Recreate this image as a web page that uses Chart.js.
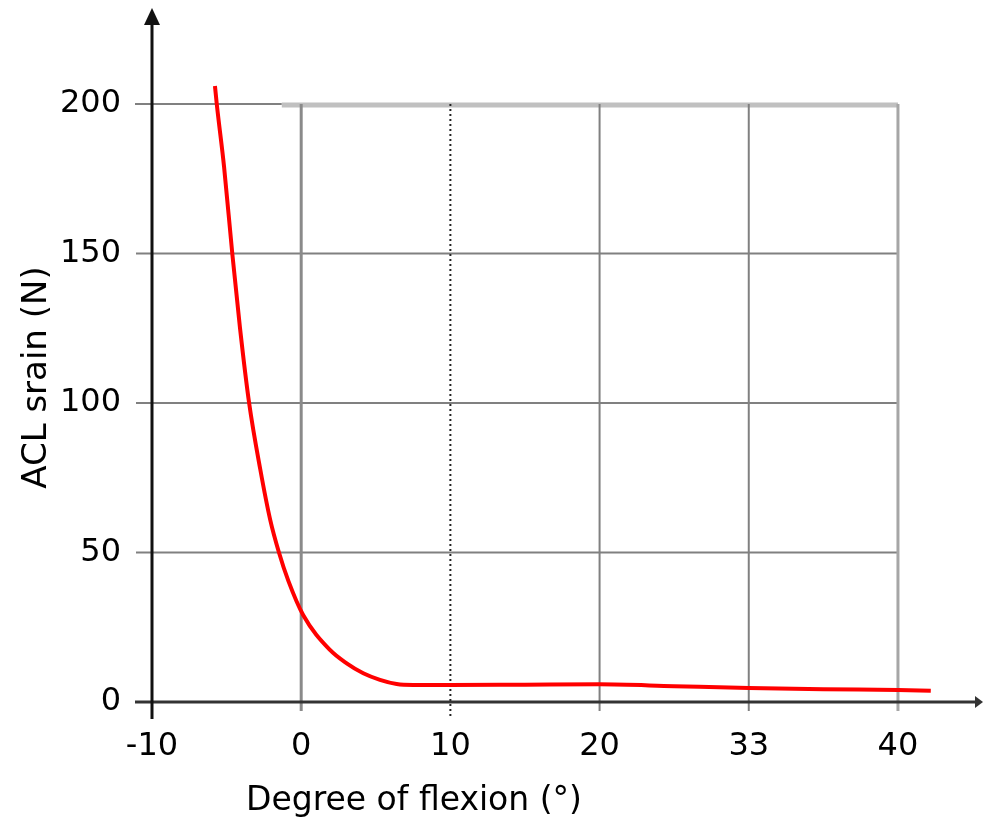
<!DOCTYPE html>
<html>
<head>
<meta charset="utf-8">
<script src="https://cdn.jsdelivr.net/npm/chart.js@4"></script>
<style>
  body { margin: 0; background: #fff; }
  #wrap { width: 984px; height: 824px; }
</style>
</head>
<body>
<div id="wrap"><canvas id="strainChart" width="984" height="824"></canvas></div>
<script>
// Curve: flexion angle (deg) vs ACL strain (N)
const flexion = [-5.78, -5.66, -5.17, -4.62, -4.1, -3.49, -2.75, -2.08, -1.49, -0.86, 0.14, 1.93, 3.05, 4.16, 5.28, 6.4, 7.5, 10, 15, 20, 25, 30, 35, 40, 42.2];
const strain  = [206, 200, 179, 150, 125, 100, 78, 61, 50, 40.5, 29, 17.4, 12.9, 9.6, 7.4, 6.0, 5.7, 5.7, 5.8, 5.9, 5.3, 4.7, 4.3, 4.0, 3.8];

// Axis ticks (the 30 tick is printed as "33" in the source)
const xTicks = [-10, 0, 10, 20, 30, 40];
const xTickLabels = ['-10', '0', '10', '20', '33', '40'];
const yTicks = [0, 50, 100, 150, 200];
const yTickLabels = ['0', '50', '100', '150', '200'];

const xTitle = 'Degree of flexion (°)';
const yTitle = 'ACL srain (N)';

// grid, dotted marker line and arrow axes, drawn through the chart scales
const gridPlugin = {
    id: 'gridPlugin',
    beforeDatasetsDraw(chart) {
        const { ctx, scales: { x, y } } = chart;
        const px = v => x.getPixelForValue(v);
        const py = v => y.getPixelForValue(v);
        const x0 = px(-10), x1 = px(40);
        const y0 = py(0), yTop = py(200);

        ctx.save();
        ctx.lineCap = 'butt';

        // horizontal grid lines
        ctx.strokeStyle = '#808080';
        ctx.lineWidth = 2;
        [50, 100, 150].forEach(v => {
            ctx.beginPath();
            ctx.moveTo(x0 - 16, py(v));
            ctx.lineTo(x1, py(v));
            ctx.stroke();
        });
        // top line: dark at the start, light further on
        ctx.beginPath();
        ctx.moveTo(x0 - 17, yTop);
        ctx.lineTo(px(-1.3), yTop);
        ctx.stroke();
        ctx.strokeStyle = '#c0c0c0';
        ctx.lineWidth = 5;
        ctx.beginPath();
        ctx.moveTo(px(-1.3), yTop + 1);
        ctx.lineTo(x1, yTop + 1);
        ctx.stroke();

        // vertical grid lines
        [[0, '#8a8a8a', 3], [20, '#808080', 2], [30, '#808080', 2], [40, '#a6a6a6', 3]].forEach(([v, c, w]) => {
            ctx.strokeStyle = c;
            ctx.lineWidth = w;
            ctx.beginPath();
            ctx.moveTo(px(v), yTop);
            ctx.lineTo(px(v), y0 + 9);
            ctx.stroke();
        });

        // dotted line at 10
        ctx.strokeStyle = '#222';
        ctx.lineWidth = 2;
        ctx.setLineDash([2, 3]);
        ctx.beginPath();
        ctx.moveTo(px(10), yTop);
        ctx.lineTo(px(10), y0 + 17);
        ctx.stroke();
        ctx.setLineDash([]);

        // x axis with arrow
        const xEnd = chart.chartArea.right;
        ctx.strokeStyle = '#333';
        ctx.lineWidth = 3;
        ctx.beginPath();
        ctx.moveTo(x0 - 17, y0);
        ctx.lineTo(xEnd - 6, y0);
        ctx.stroke();
        ctx.fillStyle = '#333';
        ctx.beginPath();
        ctx.moveTo(xEnd, y0);
        ctx.lineTo(xEnd - 8, y0 - 6);
        ctx.lineTo(xEnd - 8, y0 + 6);
        ctx.closePath();
        ctx.fill();

        // y axis with arrow
        const yEnd = chart.chartArea.top;
        ctx.strokeStyle = '#111';
        ctx.beginPath();
        ctx.moveTo(x0, y0 + 17);
        ctx.lineTo(x0, yEnd + 10);
        ctx.stroke();
        ctx.fillStyle = '#111';
        ctx.beginPath();
        ctx.moveTo(x0, yEnd - 2);
        ctx.lineTo(x0 - 8, yEnd + 15);
        ctx.lineTo(x0 + 8, yEnd + 15);
        ctx.closePath();
        ctx.fill();

        ctx.restore();
    },
    afterDraw(chart) {
        const { ctx, scales: { x, y } } = chart;
        ctx.save();
        ctx.fillStyle = '#000';
        ctx.textAlign = 'center';
        ctx.textBaseline = 'middle';

        ctx.font = '33px "DejaVu Sans"';
        ctx.fillText(xTitle, x.getPixelForValue(7.56), 801);

        ctx.translate(37, y.getPixelForValue(108.5));
        ctx.rotate(-Math.PI / 2);
        ctx.font = '34px "DejaVu Sans"';
        ctx.fillText(yTitle, 0, 0);
        ctx.restore();
    }
};

const ctx = document.getElementById('strainChart').getContext('2d');

const strainChart = new Chart(ctx, {
    type: 'scatter',
    data: {
        datasets: [{
            label: 'ACL strain',
            data: flexion.map((f, i) => ({ x: f, y: strain[i] })),
            showLine: true,
            borderColor: '#ff0000',
            borderWidth: 4,
            pointRadius: 0,
            cubicInterpolationMode: 'monotone',
            fill: false
        }]
    },
    options: {
        responsive: false,
        animation: false,
        layout: { padding: { top: 10, right: 1, left: 0, bottom: 0 } },
        plugins: { legend: { display: false }, tooltip: { enabled: false } },
        scales: {
            x: {
                type: 'linear',
                min: -10,
                max: 45.7,
                afterBuildTicks: s => { s.ticks = xTicks.map(v => ({ value: v })); },
                afterFit: s => { s.height = 122; s.paddingLeft = 0; s.paddingRight = 0; },
                grid: { display: false },
                border: { display: false },
                ticks: {
                    autoSkip: false,
                    maxRotation: 0,
                    padding: 17,
                    color: '#000',
                    font: { family: 'DejaVu Sans', size: 32 },
                    callback: (v, i) => xTickLabels[i]
                }
            },
            y: {
                type: 'linear',
                min: 0,
                max: 231.4,
                afterBuildTicks: s => { s.ticks = yTicks.map(v => ({ value: v })); },
                afterFit: s => { s.width = 152; s.paddingTop = 0; s.paddingBottom = 0; },
                grid: { display: false },
                border: { display: false },
                ticks: {
                    padding: 23,
                    color: '#000',
                    font: { family: 'DejaVu Sans', size: 32 },
                    callback: (v, i) => yTickLabels[i]
                }
            }
        }
    },
    plugins: [gridPlugin]
});
</script>
</body>
</html>
